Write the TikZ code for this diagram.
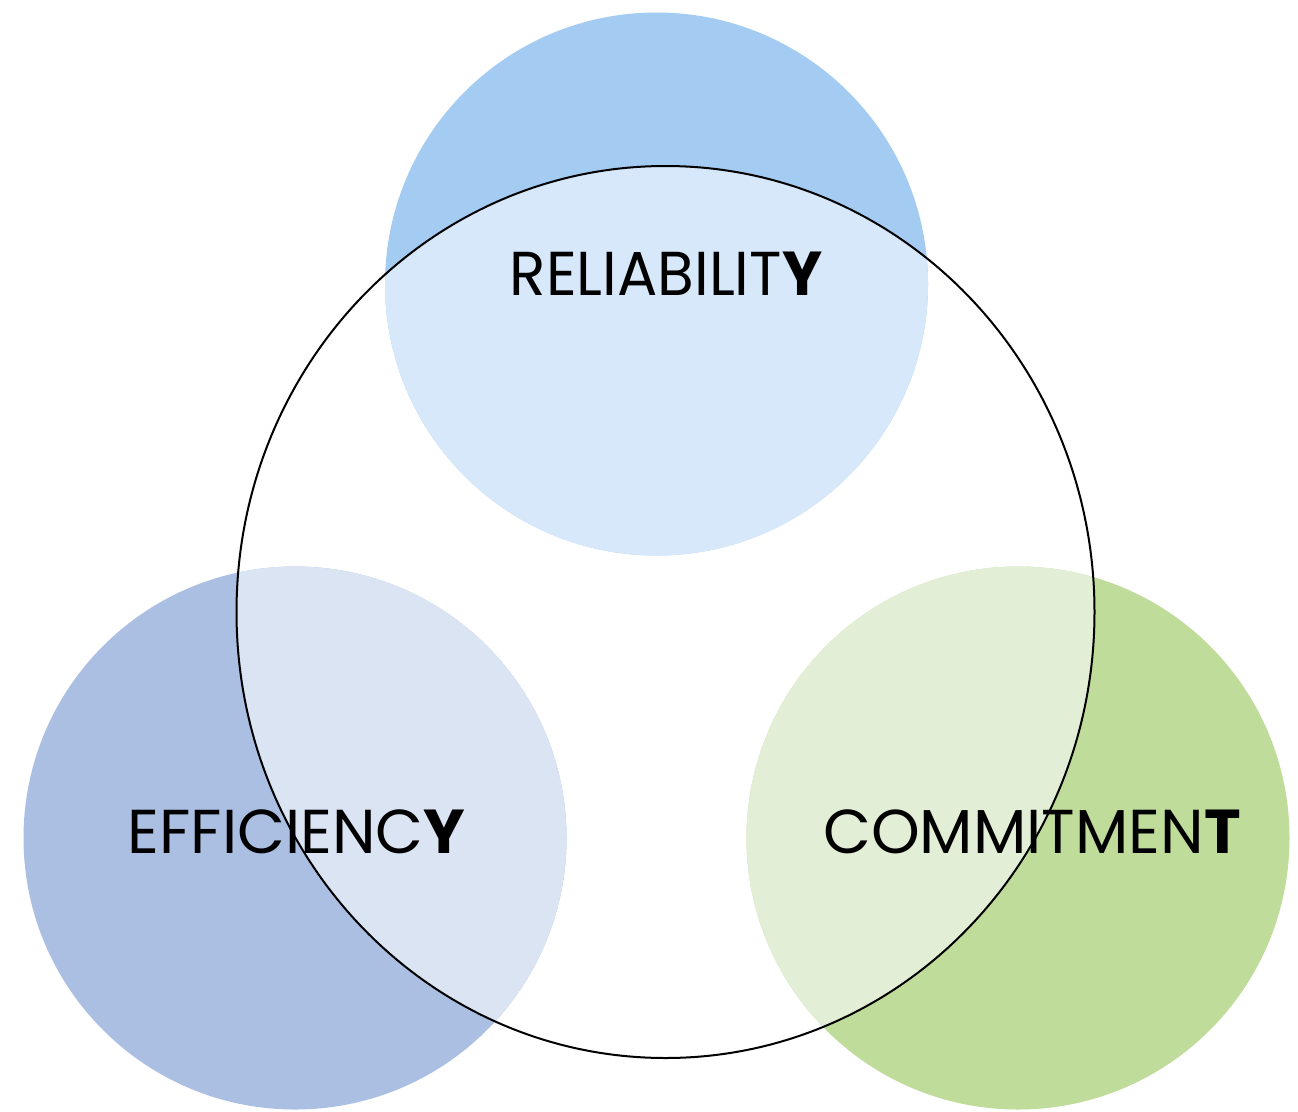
\documentclass[tikz,border=0pt]{standalone}
\usepackage{fontspec}
\setmainfont{Poppins}
\definecolor{topout}{HTML}{A4CCF3}
\definecolor{topin}{HTML}{D7E8FA}
\definecolor{leftout}{HTML}{ABBFE3}
\definecolor{leftin}{HTML}{DAE4F3}
\definecolor{rightout}{HTML}{C0DC9A}
\definecolor{rightin}{HTML}{E2EFD6}
\tikzset{
  lbl/.style={anchor=base, inner sep=0pt, font=\fontsize{62}{62}\selectfont, text=black},
}
\begin{document}
\begin{tikzpicture}[x=1pt,y=-1pt]
\useasboundingbox (0,0) rectangle (1298,1111);
\fill[white] (0,0) rectangle (1298,1111);
% outer parts of the circles
\fill[topout] (656.5,284) circle (271.5);
\fill[leftout] (295,838) circle (271.5);
\fill[rightout] (1018,838) circle (271.5);
% parts inside the big ring
\begin{scope}
  \clip (665.5,612) ellipse (429 and 446);
  \fill[topin] (656.5,284) circle (271.5);
  \fill[leftin] (295,838) circle (271.5);
  \fill[rightin] (1018,838) circle (271.5);
\end{scope}
\draw[line width=2pt, black] (665.5,612) ellipse (429 and 446);
\node[lbl] (rel) at (666,295) {\scalebox{0.965}[1]{RELIABILIT{\bfseries Y}}};
\node[lbl] (eff) at (296.5,853) {EFFICIENC{\bfseries Y}};
\node[lbl] (com) at (1032,853) {COMMITMEN{\bfseries T}};
\end{tikzpicture}
\end{document}
